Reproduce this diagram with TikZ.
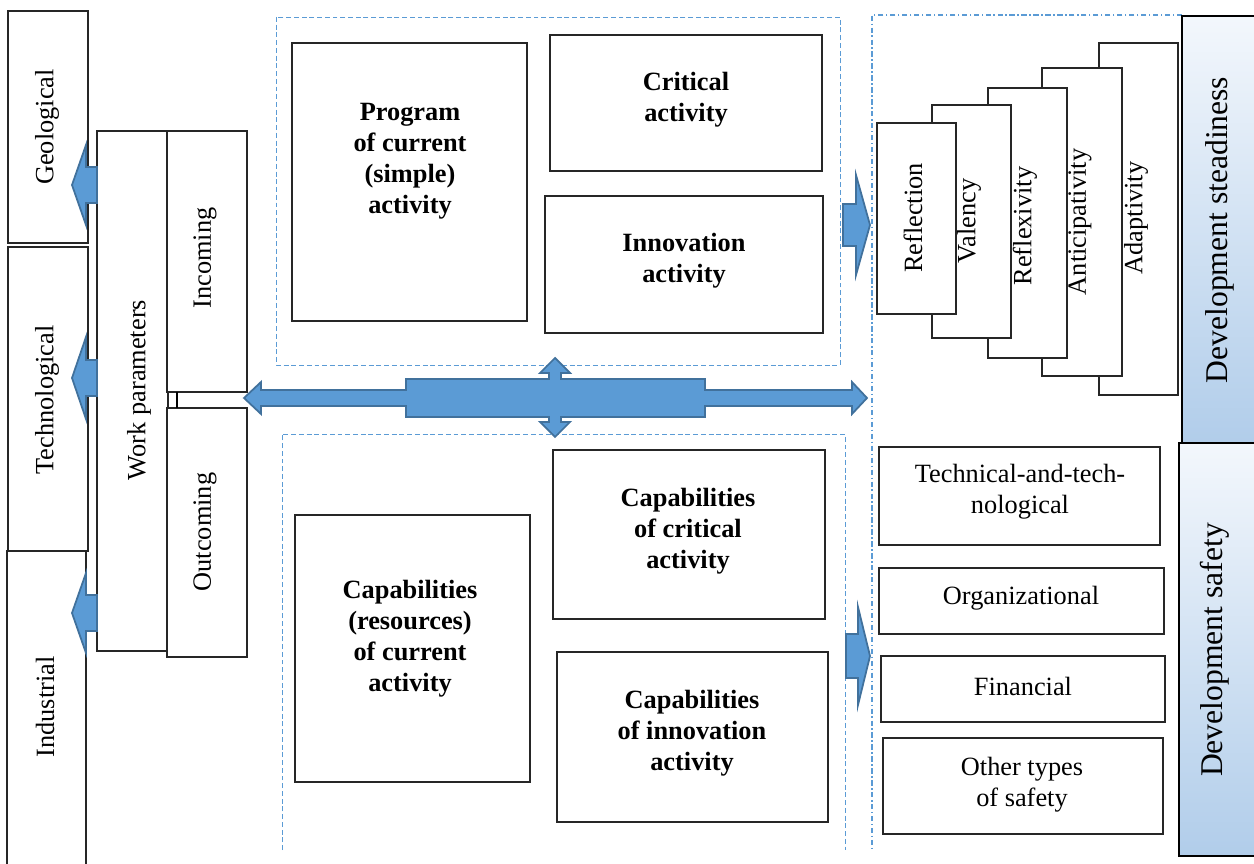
\documentclass[tikz,border=0pt]{standalone}
\usepackage{fontspec}
\setmainfont{Liberation Serif}
\usepackage{tikz}
\usepackage{xcolor}

\definecolor{arrowblue}{HTML}{5B9BD5}
\definecolor{arrowedge}{HTML}{41719C}
\definecolor{shadelight}{HTML}{F3F7FC}
\definecolor{shadedark}{HTML}{B1CDEA}

\begin{document}
\begin{tikzpicture}[x=0.02cm,y=-0.02cm,
  box/.style={draw=black!85,line width=0.7pt,fill=white},
  dashbox/.style={draw=arrowblue,line width=0.5pt,dash pattern=on 2.8pt off 1.6pt},
  dotbox/.style={draw=arrowblue,line width=0.6pt,dash pattern=on 3pt off 1.5pt on 0.8pt off 1.5pt},
  blockarrow/.style={fill=arrowblue,draw=arrowedge,line width=1pt,line join=miter},
  lbl/.style={font=\fontsize{15}{17.6}\selectfont,align=center,inner sep=0pt},
  boldlbl/.style={lbl,font=\fontsize{15}{17.6}\selectfont\bfseries},
  biglbl/.style={lbl,font=\fontsize{18}{21}\selectfont}]

\useasboundingbox (0,0) rectangle (1254,864);
\fill[white] (0,0) rectangle (1254,864);


\draw[dashbox] (276,17) rectangle (840,365);
\draw[dashbox] (282,850) -- (282,434) -- (845,434) -- (845,850);
\draw[dotbox] (1182,15) -- (872,15) -- (872,850);


\draw[box] (8,11) rectangle (88,243);
\node[lbl,rotate=90] (geo) at (47,127){Geological};

\draw[box] (8,247) rectangle (88,551);
\node[lbl,rotate=90] (tech) at (47,400){Technological};

\draw[box] (7,864) -- (7,551) -- (86,551) -- (86,864);
\node[lbl,rotate=90] (ind) at (45,707){Industrial};


\draw[box] (97,131) rectangle (168,651);
\node[lbl,rotate=90] (work) at (139,390){Work parameters};

\draw[box] (167,131) rectangle (247,392);
\node[lbl,rotate=90] (inc) at (205,258){Incoming};

\draw[box] (167,408) rectangle (247,657);
\node[lbl,rotate=90] (outc) at (205,532){Outcoming};

\coordinate (lnk1) at (177,392);
\coordinate (lnk2) at (177,408);
\draw[line width=0.7pt] (lnk1) -- (lnk2);


\draw[box] (292,43) rectangle (527,321);
\node[boldlbl] (prog) at (410,161){Program\\of current\\(simple)\\activity};

\draw[box] (550,35) rectangle (822,171);
\node[boldlbl] (crit) at (686,100){Critical\\activity};

\draw[box] (545,196) rectangle (823,333);
\node[boldlbl] (innov) at (684,261){Innovation\\activity};


\draw[box] (295,515) rectangle (530,782);
\node[boldlbl] (capcur) at (410,639){Capabilities\\(resources)\\of current\\activity};

\draw[box] (553,450) rectangle (825,619);
\node[boldlbl] (capcrit) at (688,531){Capabilities\\of critical\\activity};

\draw[box] (557,652) rectangle (828,822);
\node[boldlbl] (capinn) at (692,733){Capabilities\\of innovation\\activity};


\draw[box] (1099,43) rectangle (1178,395);
\node[lbl,rotate=90] (adapt) at (1136,218){Adaptivity};

\draw[box] (1042,68) rectangle (1122,376);
\node[lbl,rotate=90] (antic) at (1080,222){Anticipativity};

\draw[box] (988,88) rectangle (1067,358);
\node[lbl,rotate=90] (reflx) at (1025,226){Reflexivity};

\draw[box] (932,105) rectangle (1011,338);
\node[lbl,rotate=90] (val) at (969,221){Valency};

\draw[box] (877,123) rectangle (956,314);
\node[lbl,rotate=90] (refl) at (913,218){Reflection};


\draw[box] (879,447) rectangle (1160,545);
\node[lbl] (techn) at (1020,492){Technical-and-tech-\\nological};

\draw[box] (879,568) rectangle (1164,634);
\node[lbl] (org) at (1021,598){Organizational};

\draw[box] (881,656) rectangle (1165,722);
\node[lbl] (fin) at (1023,686){Financial};

\draw[box] (883,738) rectangle (1163,834);
\node[lbl] (other) at (1022,785){Other types\\of safety};


\shade[top color=shadelight,bottom color=shadedark] (1182,16) rectangle (1260,443);
\draw[line width=0.7pt] (1182,16) rectangle (1260,443);
\node[biglbl,rotate=90] (steady) at (1220,230){Development steadiness};

\shade[top color=shadelight,bottom color=shadedark] (1179,443) rectangle (1260,856);
\draw[line width=0.7pt] (1179,443) rectangle (1260,856);
\node[biglbl,rotate=90] (safe) at (1215,650){Development safety};


\draw[blockarrow] (97,167) -- (86,167) -- (86,145) -- (72,185) -- (86,225) -- (86,203) -- (97,203) -- cycle;
\draw[blockarrow] (97,360) -- (86,360) -- (86,337) -- (72,378) -- (86,419) -- (86,396) -- (97,396) -- cycle;
\draw[blockarrow] (97,595) -- (86,595) -- (86,573) -- (72,613) -- (86,653) -- (86,631) -- (97,631) -- cycle;

\draw[blockarrow] (843,204) -- (856,204) -- (856,175) -- (870,225) -- (856,275) -- (856,246) -- (843,246) -- cycle;
\draw[blockarrow] (846,634) -- (858,634) -- (858,607) -- (870,656) -- (858,705) -- (858,678) -- (846,678) -- cycle;

\draw[blockarrow] (244,398) -- (261,382) -- (261,390) -- (406,390) -- (406,379) -- (549,379) -- (549,373)
  -- (540,373) -- (555,358) -- (570,373) -- (561,373) -- (561,379) -- (705,379) -- (705,390)
  -- (852,390) -- (852,382) -- (867,398) -- (852,414) -- (852,406) -- (705,406) -- (705,417)
  -- (561,417) -- (561,422) -- (570,422) -- (555,437) -- (540,422) -- (549,422) -- (549,417)
  -- (406,417) -- (406,406) -- (261,406) -- (261,414) -- cycle;
\end{tikzpicture}
\end{document}
